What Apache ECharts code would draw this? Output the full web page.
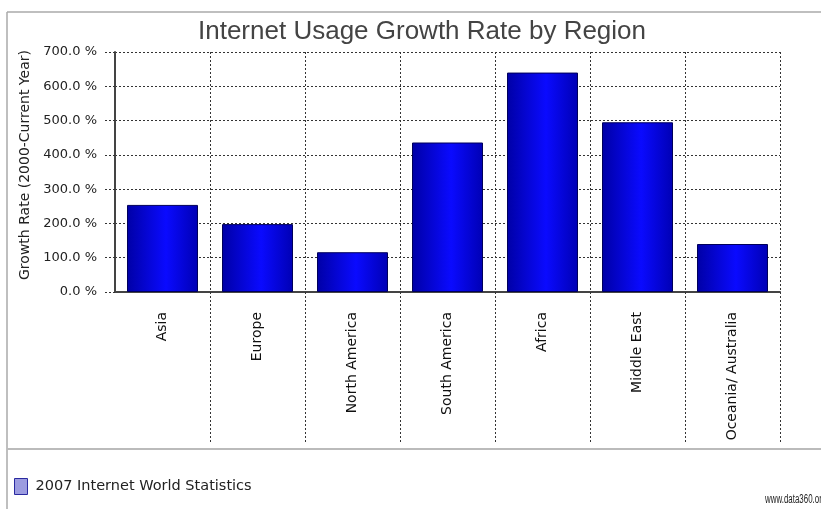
<!DOCTYPE html>
<html>
<head>
<meta charset="utf-8">
<script src="https://cdn.jsdelivr.net/npm/echarts@6/dist/echarts.min.js"></script>
<style>
html,body{margin:0;padding:0;background:#fff;}
#chart{width:821px;height:509px;}
</style>
</head>
<body>
<div id="chart"></div>
<script>
const titleText = 'Internet Usage Growth Rate by Region';
const yAxisName = 'Growth Rate (2000-Current Year)';
const seriesName = '2007 Internet World Statistics';
const categories = ['Asia', 'Europe', 'North America', 'South America', 'Africa', 'Middle East', 'Oceania/ Australia'];
const growthRates = [254, 198, 116, 436, 640, 495, 140];
const yMin = 0, yMax = 700, yStep = 100;
const sourceText = 'www.data360.org';

const chart = echarts.init(document.getElementById('chart'), null, {renderer: 'canvas'});
const dotted = {type: [2, 2], color: '#333', width: 1};

chart.setOption({
  backgroundColor: '#fff',
  animation: false,
  title: {
    text: titleText,
    left: 193,
    top: 14,
    textStyle: {fontFamily: 'Liberation Sans', fontSize: 26, fontWeight: 'normal', color: '#444'}
  },
  legend: {
    left: 9,
    top: 473,
    icon: 'rect',
    itemWidth: 13,
    itemHeight: 16,
    itemGap: 10,
    data: [{name: seriesName, itemStyle: {color: '#9c9ce0', borderColor: '#2a2aa0', borderWidth: 1}}],
    textStyle: {fontFamily: 'DejaVu Sans', fontSize: 14.5, color: '#222', padding: [0, 0, 0, 3]}
  },
  grid: {left: 115, right: 41, top: 52, bottom: 217, containLabel: false},
  xAxis: {
    type: 'category',
    data: categories,
    boundaryGap: true,
    axisLine: {show: true, lineStyle: {color: '#444', width: 2}},
    axisTick: {show: true, length: 150, lineStyle: dotted, interval: function (i) { return i !== 0; }},
    splitLine: {show: true, lineStyle: dotted},
    axisLabel: {
      rotate: 90, margin: 20, interval: 0,
      fontFamily: 'DejaVu Sans', fontSize: 14, color: '#111'
    }
  },
  yAxis: {
    type: 'value',
    min: yMin, max: yMax, interval: yStep,
    name: yAxisName,
    nameLocation: 'middle',
    nameRotate: 90,
    nameGap: 80,
    nameTextStyle: {fontFamily: 'DejaVu Sans', fontSize: 14, color: '#222', padding: [0, 0, 0, 14]},
    axisLine: {show: true, lineStyle: {color: '#444', width: 2}},
    axisTick: {show: true, length: 10, lineStyle: dotted},
    splitLine: {show: true, lineStyle: dotted},
    axisLabel: {
      margin: 18,
      fontFamily: 'DejaVu Sans', fontSize: 13, color: '#222',
      formatter: function (v) { return v.toFixed(1) + ' %'; }
    }
  },
  series: [{
    name: seriesName,
    type: 'bar',
    data: growthRates,
    barWidth: 71,
    itemStyle: {
      color: new echarts.graphic.LinearGradient(0, 0, 1, 0, [
        {offset: 0, color: '#0000a6'},
        {offset: 0.55, color: '#0a0aff'},
        {offset: 1, color: '#0000b4'}
      ]),
      borderColor: '#00005a',
      borderWidth: 1
    }
  }],
  graphic: [
    {type: 'line', silent: true, shape: {x1: 7, y1: 12, x2: 821, y2: 12}, style: {stroke: '#aaa', lineWidth: 1.5}},
    {type: 'line', silent: true, shape: {x1: 7, y1: 12, x2: 7, y2: 509}, style: {stroke: '#aaa', lineWidth: 1.5}},
    {type: 'line', silent: true, shape: {x1: 7, y1: 449, x2: 821, y2: 449}, style: {stroke: '#bbb', lineWidth: 2}},
    {type: 'text', silent: true, x: 765, y: 494, scaleX: 0.66, style: {text: sourceText, fontFamily: 'Liberation Sans', fontSize: 12, fill: '#222'}}
  ]
});
</script>
</body>
</html>
